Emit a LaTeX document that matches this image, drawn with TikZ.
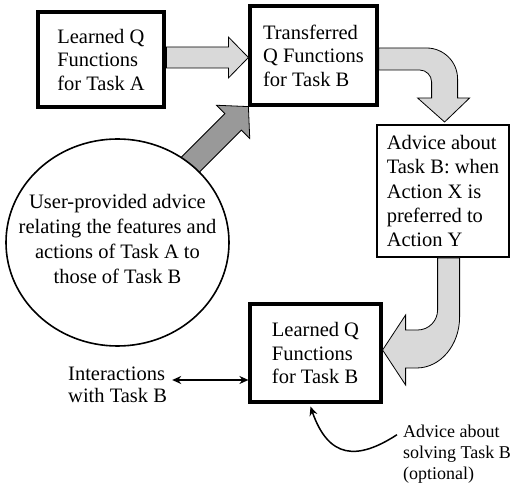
\documentclass[tikz,border=0pt]{standalone}
\usepackage{fontspec}
\setmainfont{Liberation Serif}
\usetikzlibrary{arrows.meta,shapes.geometric}
\definecolor{fill_light}{RGB}{217,217,217}
\definecolor{fill_dark}{RGB}{153,153,153}

\begin{document}
\begin{tikzpicture}[x=1pt,y=1pt,>={Stealth[length=9pt,width=8pt]}]
    \tikzstyle{txt}=[align=left, inner sep=0pt, text=black, font=\rmfamily\fontsize{20.5}{22.5}\selectfont]
    \tikzstyle{small}=[style=txt, font=\rmfamily\fontsize{18}{21}\selectfont]
    \tikzstyle{box}=[draw=black, rectangle, line width=3.2pt, align=left, inner sep=0pt, font=\rmfamily\fontsize{20.5}{23.5}\selectfont]
    \tikzstyle{thinbox}=[style=box, line width=1.8pt, font=\rmfamily\fontsize{20.5}{24.3}\selectfont]
    \tikzstyle{blockl}=[draw=black, line width=0.8pt, fill=fill_light, line join=miter]
    \tikzstyle{blockd}=[style=blockl, fill=fill_dark]
    \tikzstyle{link}=[line width=1.5pt]

    \useasboundingbox (0,0) rectangle (514,487);

    \node[box, minimum width=126pt, minimum height=95pt]  (qa)  at (101,427.5) {Learned Q\\Functions\\for Task A};
    \node[box, minimum width=127pt, minimum height=99pt]  (qt)  at (313.5,431.5) {Transferred\\Q Functions\\for Task B};
    \node[thinbox, minimum width=132pt, minimum height=132pt] (adv) at (443,296) {Advice about\\Task B: when\\Action X is\\preferred to\\Action Y};
    \node[box, minimum width=131pt, minimum height=98pt]  (qb)  at (315.5,134) {Learned Q\\Functions\\for Task B};
    \node[txt, anchor=north west]   (inter) at (68,120.6)  {Interactions\\with Task B};
    \node[small, anchor=north west] (sol)   at (403,62.3)  {Advice about\\solving Task B\\(optional)};

    % block arrows
    \begin{scope}[shift={([yshift=-2pt]qt.west)}]
      \draw[blockl] (0,0) -- (-20,20.5) -- (-20,10.5) -- (-82,10.5) -- (-82,-10.5)
        -- (-20,-10.5) -- (-20,-20.5) -- cycle;
    \end{scope}
    \begin{scope}[shift={(qt.east)}]
      \draw[blockl] (0,7.5) -- (48,7.5) arc[start angle=90, end angle=0, radius=31]
        -- (79,-42.5) -- (91,-42.5) -- (66,-66.5) -- (39,-42.5) -- (53,-42.5)
        -- (53,-26.5) arc[start angle=0, end angle=90, radius=12] -- (0,-14.5) -- cycle;
    \end{scope}
    \begin{scope}[shift={(qb.east)}]
      \draw[blockl] (55,95) -- (55,43) arc[start angle=0, end angle=-90, radius=20]
        -- (23,23) -- (23,38) -- (0,3) -- (23,-32) -- (23,-15) -- (34,-15)
        arc[start angle=-90, end angle=0, x radius=43, y radius=51] -- (77,95) -- cycle;
    \end{scope}
    \begin{scope}[shift={(qt.south west)}, rotate=45]
      \draw[blockd] (0,0) -- (-21.6,23.5) -- (-21.6,11.7) -- (-120,11.7) -- (-120,-11.7)
        -- (-21.6,-11.7) -- (-21.6,-23.5) -- cycle;
    \end{scope}

    \node[ellipse, draw=black, fill=white, line width=1.6pt, minimum width=223pt, minimum height=207pt,
      label={[align=center, yshift=4pt, font=\rmfamily\fontsize{20.5}{25}\selectfont]center:User-provided advice\\relating the features and\\actions of Task A to\\those of Task B}] (user) at (117.5,244.5) {};

    \draw[link, <->] ([xshift=5pt]inter.east |- 0,107) -- (qb.west |- 0,107);
    \draw[link, ->] ([shift={(-6pt,-10pt)}]sol.north west) .. controls +(-40,-26) and +(18,-52) .. ([xshift=-5pt,yshift=-3pt]qb.south);
\end{tikzpicture}
\end{document}
